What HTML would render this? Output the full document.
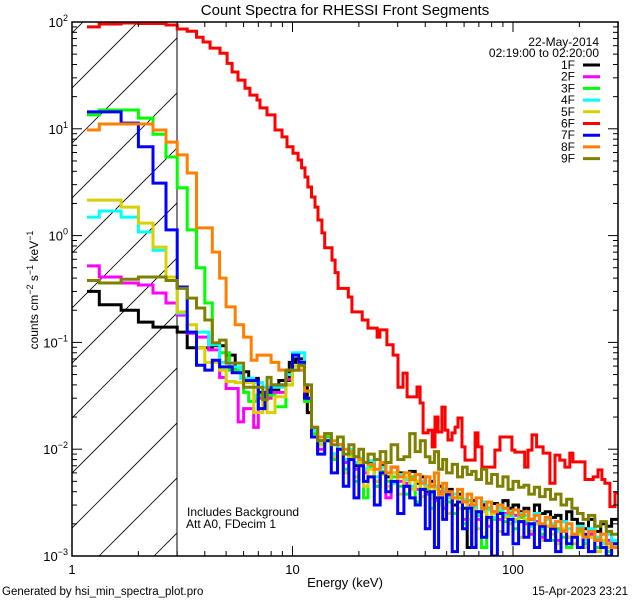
<!DOCTYPE html>
<html><head><meta charset="utf-8">
<style>
body{margin:0;background:#fff;}
svg{display:block;font-family:"Liberation Sans",sans-serif;}
</style></head>
<body>
<svg id="chart" width="640" height="600" viewBox="0 0 640 600" xmlns="http://www.w3.org/2000/svg">
<rect width="640" height="600" fill="#fff"/>
<defs><clipPath id="plotclip"><rect x="72" y="22" width="546" height="534"/></clipPath>
<clipPath id="hatchclip"><rect x="72" y="22" width="105" height="534"/></clipPath></defs>
<g id="hatch" clip-path="url(#hatchclip)"></g>
<line x1="177" y1="22" x2="177" y2="556" stroke="#000" stroke-width="1"/>
<g id="series" clip-path="url(#plotclip)"></g>
<rect x="72" y="22" width="546" height="534" fill="none" stroke="#000" stroke-width="1.5"/>
<g id="axes"></g>
<text x="345" y="15" font-size="15" text-anchor="middle">Count Spectra for RHESSI Front Segments</text>
<text x="345" y="587" font-size="13" text-anchor="middle">Energy (keV)</text>
<text transform="translate(38,290) rotate(-90)" font-size="12" text-anchor="middle">counts cm<tspan dy="-5" font-size="9">−2</tspan><tspan dy="5"> s</tspan><tspan dy="-5" font-size="9">−1</tspan><tspan dy="5"> keV</tspan><tspan dy="-5" font-size="9">−1</tspan></text>
<text x="2" y="595" font-size="11.5">Generated by hsi_min_spectra_plot.pro</text>
<text x="628" y="595" font-size="11.5" text-anchor="end">15-Apr-2023 23:21</text>
<text x="187" y="516" font-size="12">Includes Background</text>
<text x="186" y="528" font-size="12">Att A0, FDecim 1</text>
<text x="599" y="46" font-size="12" text-anchor="end">22-May-2014</text>
<text x="599" y="57" font-size="12" text-anchor="end">02:19:00 to 02:20:00</text>
<g id="legend"></g>
</svg>
<script>
const segmentNames = ["1F","2F","3F","4F","5F","6F","7F","8F","9F"];
const segmentColors = ["#000000","#ff00ff","#00ff00","#00ffff","#d8d000","#ff0000","#0000ff","#ff8000","#808000"];
const xTickMajor = [1,10,100];
const xTickLabels = ["1","10","100"];
const yTickMajorExp = [2,1,0,-1,-2,-3];
const tailEnergies = [12.2,13,14,15,16,17,18,19,20,21,22,23.5,25,26.5,28,30,32,34,36,38,40,42,44,46,48,50,53,56,59,62,65,68,72,76,80,85,90,95,100,106,112,118,125,132,140,148,156,165,175,185,196,208,220,235,250,265,280];
const endEnergy = 300;

const lowE1F = [1.17,1.33,1.67,2.0,2.33,2.67,3.0,3.33,4.33,5.0,5.5,6.33,7.0,7.67,8.67,9.67,10.33,11.33,11.67];
const lowV1F = [.30,.225,.20,.155,.139,.139,.125,.089,.093,.076,.053,.046,.034,.036,.044,.065,.07,.04,.022];
const tailV1F = [.016,.012,.013,.009,.011,.008,.0095,.007,.008,.0065,.0075,.005,.007,.0055,.0068,.006,.0045,.0062,.0048,.0055,.004,.005,.0035,.0045,.0038,.0042,.003,.0038,.0028,.0012,.0033,.0026,.0030,.0028,.0031,.0025,.0033,.0028,.0030,.0026,.0028,.0022,.0030,.0025,.0026,.0023,.0024,.0021,.0026,.0022,.0020,.0018,.0022,.0017,.0020,.0019,.0022];

const lowE2F = [1.17,1.33,1.67,2.0,2.33,2.67,3.0,3.33,3.67,4.17,4.67,5.0,5.67,6.0,6.67,7.0,8.0,9.33,10.0,11.33];
const lowV2F = [.52,.41,.36,.345,.29,.234,.18,.122,.112,.085,.047,.037,.018,.024,.016,.030,.034,.045,.055,.03];
const tailV2F = [.013,.010,.012,.008,.010,.0075,.009,.0065,.0072,.006,.0068,.0045,.0062,.0035,.006,.005,.0048,.0055,.0042,.005,.0038,.0045,.0033,.004,.0028,.0036,.0025,.0032,.0022,.0030,.0028,.0022,.0027,.0019,.0026,.0022,.0025,.0020,.0024,.0021,.0020,.0016,.0021,.0015,.0019,.0018,.0014,.0017,.0015,.0016,.0018,.0013,.0016,.0015,.0012,.0014,.0013];

const lowE3F = [1.17,1.33,2.0,2.33,2.67,3.0,3.33,3.67,4.0,4.33,4.67,5.17,6.0,6.33,6.9,8.33,9.33,10.0,11.33];
const lowV3F = [13.5,15.0,12.6,8.9,5.45,2.8,1.13,.50,.234,.099,.080,.055,.034,.028,.032,.025,.04,.06,.028];
const tailV3F = [.014,.011,.013,.008,.010,.0065,.009,.005,.0075,.0035,.0068,.0045,.0062,.005,.0055,.0045,.0038,.0055,.0032,.0048,.0042,.0028,.0045,.0035,.004,.0032,.0025,.0035,.002,.0033,.0028,.0024,.0012,.0028,.0022,.0026,.0021,.0024,.0018,.0023,.0021,.0017,.0020,.0016,.0019,.0014,.0018,.0015,.0012,.0016,.0017,.0013,.0015,.0012,.0014,.0011,.0013];

const lowE4F = [1.17,1.33,1.67,2.0,2.33,2.67,3.0,3.33,4.17,4.67,5.17,5.83,6.67,7.33,9.33,10.0,11.33];
const lowV4F = [1.49,1.70,1.49,1.08,.73,.41,.188,.125,.095,.065,.059,.046,.042,.038,.05,.08,.035];
const tailV4F = [.015,.012,.014,.009,.011,.008,.010,.0075,.0082,.0065,.0078,.0055,.0068,.006,.0048,.0058,.0052,.0045,.0058,.005,.0046,.0038,.0045,.0032,.0042,.0035,.0038,.0028,.0034,.0026,.0030,.0025,.0032,.0027,.0023,.0028,.0024,.0026,.0021,.0025,.0024,.0019,.0025,.0018,.0022,.0020,.0017,.0021,.0018,.0016,.0019,.0014,.0018,.0015,.0013,.0016,.0014];

const lowE5F = [1.17,1.67,2.0,2.33,2.67,3.0,3.33,3.67,4.0,4.67,5.0,5.5,6.67,7.33,7.67,8.33,9.33,10.0,11.33];
const lowV5F = [2.15,1.85,1.31,.78,.41,.193,.146,.089,.065,.055,.043,.042,.022,.030,.022,.031,.04,.06,.03];
const tailV5F = [.013,.011,.012,.0085,.010,.006,.0085,.0055,.0075,.0045,.0065,.005,.0058,.0045,.006,.0038,.0055,.0042,.005,.0036,.0044,.0035,.0042,.003,.0038,.0025,.0035,.0028,.0032,.0022,.0027,.0018,.0026,.0022,.0025,.0017,.0023,.0020,.0022,.0015,.0022,.0017,.0020,.0014,.0019,.0016,.0013,.0018,.0015,.0013,.0016,.0012,.0015,.0011,.0014,.0012,.0013];

const energies6F = [1.17,1.33,1.67,2.0,2.67,3.0,3.33,3.67,3.93,4.23,4.69,5.05,5.32,5.66,6.09,6.41,6.9,7.12,7.66,8.33,8.96,9.44,10.05,10.6,11.0,11.4,11.75,12.2,12.65,13.05,13.6,14.0,15.1,15.6,16.1,17.9,18.6,20.7,22.0,24.2,24.9,26.8,28.6,30.1,31.7,33.1,36.7,37.9,39.1,41.2,43.0,44.3,45.7,47.6,49.2,50.7,52.9,54.6,56.3,58.7,60.6,67.3,69.4,72.3,82.8,87.3,98.9,102,113,117,122,128,137,147,155,163,172,181,187,212,231,243,253,261,275,290];
const values6F = [90,95.7,97.9,96.8,93.7,86,82,72,65,57,51,41,34,28.6,24,20.7,18.6,15.7,13.5,9.75,8.4,6.8,5.9,5.1,4.3,3.54,2.85,2.30,1.85,1.40,1.06,.77,.59,.45,.32,.266,.193,.162,.136,.112,.131,.095,.076,.038,.0516,.0309,.0382,.0271,.0142,.0151,.0105,.0200,.0145,.0248,.0151,.0122,.0142,.0161,.0196,.0105,.0079,.0142,.0105,.0068,.0098,.0130,.0098,.0094,.0068,.0098,.0136,.0105,.0092,.0048,.0088,.0079,.0068,.0092,.0076,.0052,.0055,.0064,.0052,.0048,.0029,.0039];

const lowE7F = [1.17,1.67,2.0,2.33,2.67,3.0,3.33,3.67,4.0,4.33,4.67,5.33,6.0,7.0,7.5,8.0,9.33,10.0,10.67,11.33];
const lowV7F = [14.4,11.3,6.8,3.1,1.13,.33,.125,.061,.055,.068,.059,.052,.044,.024,.034,.04,.055,.076,.065,.03];
const tailV7F = [.013,.009,.012,.006,.010,.0045,.008,.0035,.007,.005,.0055,.003,.006,.004,.005,.0025,.0045,.0035,.003,.0042,.0018,.004,.0012,.0035,.0022,.0038,.0011,.0032,.0018,.0028,.0012,.0026,.0015,.0023,.0010,.0025,.0016,.0022,.0013,.0021,.0015,.0020,.0012,.0019,.0014,.0018,.0011,.0017,.0013,.0015,.0012,.0016,.0011,.0014,.0012,.0010,.0013];

const lowE8F = [1.17,1.33,2.33,2.67,3.0,3.33,3.67,4.33,4.67,5.0,5.5,6.0,6.5,6.9,8.0,8.67,9.33,11.33];
const lowV8F = [9.75,11.1,9.75,7.5,5.7,3.86,1.18,.70,.40,.215,.146,.112,.068,.076,.065,.055,.055,.035];
const tailV8F = [.016,.013,.014,.012,.011,.010,.0095,.0085,.008,.0075,.0072,.0065,.0075,.006,.0068,.0055,.006,.0052,.0058,.0048,.0055,.0045,.0060,.0038,.0048,.0040,.0035,.0042,.0032,.0038,.0030,.0035,.0028,.0032,.0026,.0030,.0028,.0025,.0027,.0024,.0026,.0022,.0024,.0020,.0023,.0019,.0021,.0017,.0020,.0016,.0018,.0015,.0017,.0014,.0016,.0013,.0012];

const lowE9F = [1.17,1.33,1.67,2.0,2.67,3.0,3.33,3.67,4.0,4.33,4.67,5.0,6.0,7.33,7.67,8.0,9.33,10.67,11.33];
const lowV9F = [.38,.36,.39,.41,.38,.32,.26,.21,.162,.099,.105,.064,.038,.029,.047,.04,.055,.061,.04];
const tailV9F = [.016,.012,.014,.011,.013,.009,.011,.0085,.010,.0075,.009,.008,.0095,.0075,.011,.008,.0085,.014,.0095,.012,.0085,.0075,.0095,.0065,.008,.0060,.0072,.0055,.0068,.0058,.0062,.0052,.0065,.0048,.0058,.0045,.0055,.0042,.0050,.0044,.0046,.0038,.0044,.0036,.0042,.0034,.0038,.0030,.0034,.0028,.0025,.0022,.0024,.0019,.0021,.0017,.0016];

const NS="http://www.w3.org/2000/svg";
const X0=72, DEC_X=220.5, Y0=22, DEC_Y=106.8;
function xScale(e){return X0+Math.log10(e)*DEC_X;}
function yScale(v){return Y0+(2-Math.log10(v))*DEC_Y;}
function mk(tag,attrs,parent){const el=document.createElementNS(NS,tag);for(const k in attrs)el.setAttribute(k,attrs[k]);parent.appendChild(el);return el;}

const seriesE=[lowE1F.concat(tailEnergies),lowE2F.concat(tailEnergies),lowE3F.concat(tailEnergies),lowE4F.concat(tailEnergies),lowE5F.concat(tailEnergies),energies6F,lowE7F.concat(tailEnergies),lowE8F.concat(tailEnergies),lowE9F.concat(tailEnergies)];
const seriesV=[lowV1F.concat(tailV1F),lowV2F.concat(tailV2F),lowV3F.concat(tailV3F),lowV4F.concat(tailV4F),lowV5F.concat(tailV5F),values6F,lowV7F.concat(tailV7F),lowV8F.concat(tailV8F),lowV9F.concat(tailV9F)];

// hatch
const hatch=document.getElementById('hatch');
for(let k=-12;k<4;k++){
  const bx=99+55*k;
  const ln=mk('line',{x1:bx,y1:556,x2:bx+600,y2:-44,stroke:'#000','stroke-width':0.8},hatch);
  
  
}

// series
const sg=document.getElementById('series');
for(let s=0;s<9;s++){
  const E=seriesE[s],V=seriesV[s];
  let d='';
  for(let i=0;i<E.length;i++){
    const xa=xScale(E[i]),xb=xScale(i+1<E.length?E[i+1]:endEnergy);
    const y=Math.min(yScale(Math.max(V[i],1e-5)),600);
    d+=(i===0?'M':'L')+xa.toFixed(1)+','+y.toFixed(1)+'L'+xb.toFixed(1)+','+y.toFixed(1);
  }
  const p=mk('path',{d:d,fill:'none',stroke:segmentColors[s],'stroke-width':3,'stroke-linejoin':'miter'},sg);
  
  
}

// axes ticks
const ax=document.getElementById('axes');
for(let dec=0;dec<3;dec++){
  for(let m=1;m<10;m++){
    const e=Math.pow(10,dec)*m; if(e>endEnergy)break;
    const x=xScale(e); const len=m===1?10:5;
    const t1=mk('line',{x1:x,y1:556,x2:x,y2:556-len,stroke:'#000','stroke-width':1},ax);
    
    
    const t2=mk('line',{x1:x,y1:22,x2:x,y2:22+len,stroke:'#000','stroke-width':1},ax);
    
    
  }
}
xTickMajor.forEach((e,i)=>{
  const t=mk('text',{x:xScale(e),y:574,'font-size':13,'text-anchor':'middle'},ax);
  t.textContent=xTickLabels[i];
  
  
});
yTickMajorExp.forEach(ex=>{
  for(let m=1;m<10;m++){
    if(ex===2&&m>1)break;
    const v=Math.pow(10,ex)*m; const y=yScale(v); const len=m===1?10:5;
    const a=mk('line',{x1:72,y1:y,x2:72+len,y2:y,stroke:'#000','stroke-width':1},ax);
    
    
    const b=mk('line',{x1:618,y1:y,x2:618-len,y2:y,stroke:'#000','stroke-width':1},ax);
    
    
  }
  const t=mk('text',{x:68,y:yScale(Math.pow(10,ex))+5,'font-size':13,'text-anchor':'end'},ax);
  
  
  t.innerHTML='10<tspan dy="-6" font-size="9">'+(ex<0?'−'+(-ex):ex)+'</tspan>';
});

// legend
const lg=document.getElementById('legend');
segmentNames.forEach((n,i)=>{
  const y=65+11.7*i;
  const t=mk('text',{x:575,y:y+4,'font-size':12,'text-anchor':'end'},lg);
  t.textContent=n;
  
  
  const l=mk('line',{x1:583,y1:y,x2:600,y2:y,stroke:segmentColors[i],'stroke-width':3},lg);
  
  
});
</script>
</body></html>
